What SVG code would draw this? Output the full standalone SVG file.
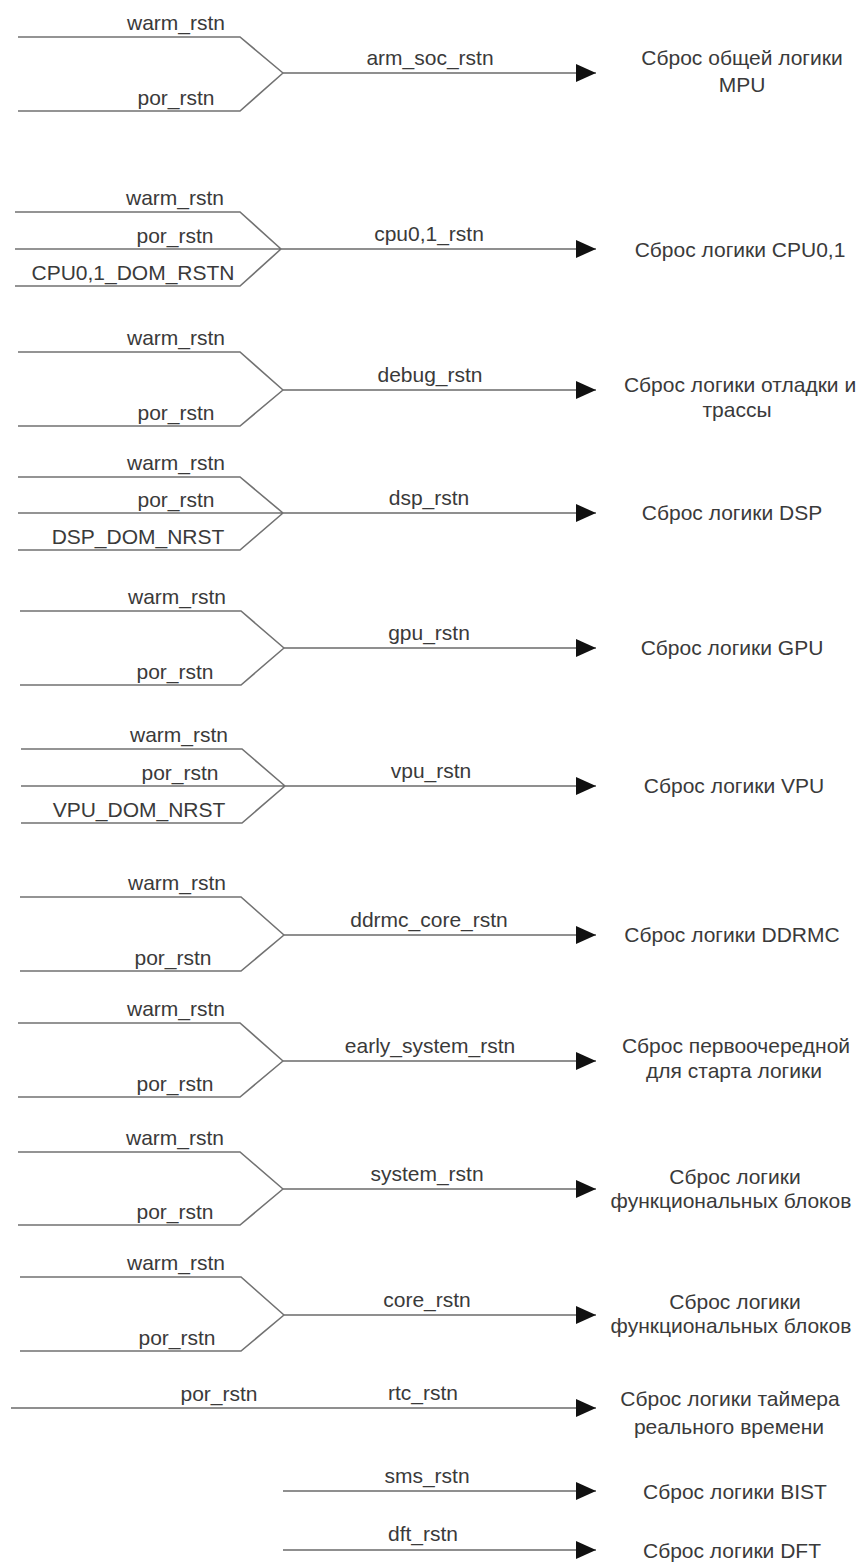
<svg xmlns="http://www.w3.org/2000/svg" width="861" height="1564" viewBox="0 0 861 1564">
<style>
  .w{fill:none;stroke:#727272;stroke-width:1.6}
  .o{fill:none;stroke:#6a6a6a;stroke-width:1.6;marker-end:url(#ah)}
  text{font-family:"Liberation Sans",Arial,sans-serif;font-size:21px;fill:#3a3a3a;text-anchor:middle}
</style>
<defs>
  <marker id="ah" markerUnits="userSpaceOnUse" markerWidth="20" markerHeight="18" refX="20" refY="9" orient="auto">
    <path d="M0,0 L20,9 L0,18 Z" fill="#111"/>
  </marker>
</defs>
<rect width="861" height="1564" fill="#fff"/>
<g id="connectors">
  <path class="w" d="M18,37 H240 L283,73 M18,111 H240 L283,73"/>
  <path class="o" d="M283,73 H596"/>
  <path class="w" d="M15,212 H240 L281,249 M15,249 H281 M15,286 H240 L281,249"/>
  <path class="o" d="M281,249 H596"/>
  <path class="w" d="M18,352 H240 L283,390 M18,426 H240 L283,390"/>
  <path class="o" d="M283,390 H596"/>
  <path class="w" d="M18,477 H240 L283,513 M18,513 H283 M18,550 H240 L283,513"/>
  <path class="o" d="M283,513 H596"/>
  <path class="w" d="M20,611 H241 L284,648 M20,685 H241 L284,648"/>
  <path class="o" d="M284,648 H596"/>
  <path class="w" d="M21,749 H242 L285,786 M21,786 H285 M21,823 H242 L285,786"/>
  <path class="o" d="M285,786 H596"/>
  <path class="w" d="M20,897 H241 L284,935 M20,971 H241 L284,935"/>
  <path class="o" d="M284,935 H596"/>
  <path class="w" d="M18,1023 H240 L283,1061 M18,1097 H240 L283,1061"/>
  <path class="o" d="M283,1061 H596"/>
  <path class="w" d="M18,1152 H240 L283,1189 M18,1225 H240 L283,1189"/>
  <path class="o" d="M283,1189 H596"/>
  <path class="w" d="M20,1277 H241 L284,1315 M20,1351 H241 L284,1315"/>
  <path class="o" d="M284,1315 H596"/>
  <path class="o" d="M11,1408 H596"/>
  <path class="o" d="M283,1491 H596"/>
  <path class="o" d="M283,1550 H596"/>
</g>
<g id="arm_soc">
  <text x="176" y="30">warm_rstn</text><text x="176" y="105">por_rstn</text>
  <text x="430" y="65">arm_soc_rstn</text>
  <text x="742" y="65">Сброс общей логики</text><text x="742" y="92">MPU</text>
</g>
<g id="cpu">
  <text x="175" y="205">warm_rstn</text><text x="175" y="243">por_rstn</text><text x="133" y="280">CPU0,1_DOM_RSTN</text>
  <text x="429" y="241">cpu0,1_rstn</text>
  <text x="740" y="257">Сброс логики CPU0,1</text>
</g>
<g id="debug">
  <text x="176" y="345">warm_rstn</text><text x="176" y="420">por_rstn</text>
  <text x="430" y="382">debug_rstn</text>
  <text x="740" y="392">Сброс логики отладки и</text><text x="737" y="417">трассы</text>
</g>
<g id="dsp">
  <text x="176" y="470">warm_rstn</text><text x="176" y="507">por_rstn</text><text x="138" y="544">DSP_DOM_NRST</text>
  <text x="429" y="505">dsp_rstn</text>
  <text x="732" y="520">Сброс логики DSP</text>
</g>
<g id="gpu">
  <text x="177" y="604">warm_rstn</text><text x="175" y="679">por_rstn</text>
  <text x="429" y="640">gpu_rstn</text>
  <text x="732" y="655">Сброс логики GPU</text>
</g>
<g id="vpu">
  <text x="179" y="742">warm_rstn</text><text x="180" y="780">por_rstn</text><text x="139" y="817">VPU_DOM_NRST</text>
  <text x="431" y="778">vpu_rstn</text>
  <text x="734" y="793">Сброс логики VPU</text>
</g>
<g id="ddrmc">
  <text x="177" y="890">warm_rstn</text><text x="173" y="965">por_rstn</text>
  <text x="429" y="927">ddrmc_core_rstn</text>
  <text x="732" y="942">Сброс логики DDRMC</text>
</g>
<g id="early_system">
  <text x="176" y="1016">warm_rstn</text><text x="175" y="1091">por_rstn</text>
  <text x="430" y="1053">early_system_rstn</text>
  <text x="736" y="1053">Сброс первоочередной</text><text x="734" y="1078">для старта логики</text>
</g>
<g id="system">
  <text x="175" y="1145">warm_rstn</text><text x="175" y="1219">por_rstn</text>
  <text x="427" y="1181">system_rstn</text>
  <text x="735" y="1184">Сброс логики</text><text x="731" y="1208">функциональных блоков</text>
</g>
<g id="core">
  <text x="176" y="1270">warm_rstn</text><text x="177" y="1345">por_rstn</text>
  <text x="427" y="1307">core_rstn</text>
  <text x="735" y="1309">Сброс логики</text><text x="731" y="1333">функциональных блоков</text>
</g>
<g id="rtc">
  <text x="219" y="1401">por_rstn</text>
  <text x="423" y="1400">rtc_rstn</text>
  <text x="730" y="1406">Сброс логики таймера</text><text x="729" y="1434">реального времени</text>
</g>
<g id="sms">
  <text x="427" y="1483">sms_rstn</text>
  <text x="735" y="1499">Сброс логики BIST</text>
</g>
<g id="dft">
  <text x="423" y="1541">dft_rstn</text>
  <text x="732" y="1558">Сброс логики DFT</text>
</g>
</svg>
